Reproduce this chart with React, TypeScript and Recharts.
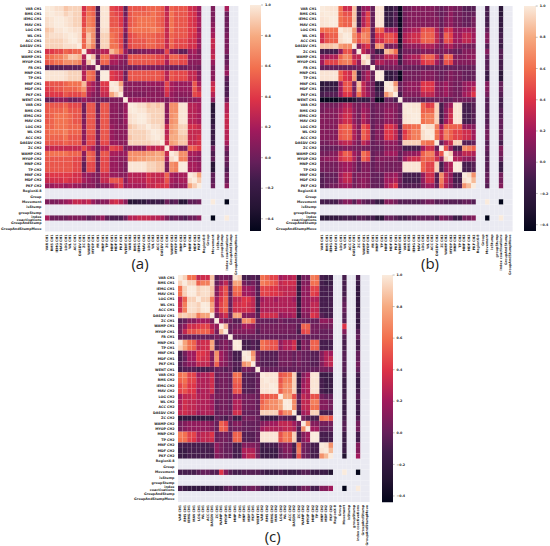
import { Bar, BarChart, Scatter, ScatterChart, XAxis, YAxis } from "recharts";

const features = [
  "VAR CH1", "RMS CH1", "IEMG CH1", "MAV CH1", "LOG CH1", "WL CH1", "ACC CH1", "DASDV CH1", "ZC CH1",
  "WAMP CH1", "MYOP CH1", "FR CH1", "MNP CH1", "TP CH1", "MNF CH1", "MDF CH1", "PKF CH1", "WENT CH1",
  "VAR CH2", "RMS CH2", "IEMG CH2", "MAV CH2", "LOG CH2", "WL CH2", "ACC CH2", "DASDV CH2", "ZC CH2",
  "WAMP CH2", "MYOP CH2", "MNP CH2", "TP CH2", "MNF CH2", "MDF CH2", "PKF CH2",
];
const extras = ["RegionX-8", "Group", "Movement", "isStump", "groupStump", "index\ncoactivations", "GroupAndStump", "GroupAndStumpMove"];
const labels = [...features, ...extras];
const colorbarTicks = [-0.4, -0.2, 0, 0.2, 0.4, 0.6, 0.8, 1];
const rocket = ["#03051a", "#241433", "#3f1c4a", "#651f5a", "#a01a5c", "#dd3347", "#f26f4e", "#f6a97f", "#faebdd"];
const rocketStops = [0, 0.1, 0.22, 0.305, 0.444, 0.583, 0.72, 0.86, 1];

// lower triangles, in hundredths
const corrA = [
  [100],
  [99, 100],
  [96, 98, 100],
  [96, 98, 100, 100],
  [88, 92, 98, 98, 100],
  [92, 96, 96, 96, 98, 100],
  [92, 92, 92, 92, 96, 99, 100],
  [92, 92, 92, 92, 96, 96, 96, 100],
  [35, 40, 45, 45, 55, 50, 55, 55, 100],
  [55, 60, 65, 65, 75, 88, 88, 82, 25, 100],
  [50, 55, 60, 60, 70, 70, 70, 65, 15, 88, 100],
  [-10, -8, -8, -8, -5, -5, -5, -5, 10, 0, 5, 100],
  [98, 98, 98, 98, 96, 92, 92, 92, 25, 60, 55, -5, 100],
  [98, 98, 98, 98, 96, 92, 92, 92, 25, 60, 55, -5, 100, 100],
  [45, 50, 50, 50, 55, 60, 60, 60, 85, 30, 20, 5, 40, 40, 100],
  [40, 45, 50, 50, 55, 55, 55, 60, 72, 25, 20, 5, 35, 35, 98, 100],
  [35, 40, 40, 40, 50, 45, 45, 45, 55, 20, 10, 5, 30, 30, 78, 90, 100],
  [-5, 0, 10, 10, 10, 0, 0, 5, 15, 10, 5, 0, 0, 0, 5, 5, 5, 100],
  [50, 50, 50, 50, 55, 45, 45, 45, 0, 50, 50, 0, 50, 50, 10, 10, 5, 15, 100],
  [50, 55, 55, 55, 60, 50, 50, 50, 0, 50, 50, 0, 50, 50, 10, 10, 5, 15, 99, 100],
  [50, 55, 60, 60, 60, 55, 50, 50, 5, 50, 50, 5, 50, 50, 10, 10, 5, 15, 96, 98, 100],
  [50, 55, 60, 60, 60, 55, 50, 50, 5, 50, 50, 5, 50, 50, 10, 10, 5, 15, 96, 98, 100, 100],
  [55, 55, 60, 60, 60, 55, 55, 55, 10, 50, 50, 5, 50, 50, 15, 10, 10, 10, 88, 92, 96, 96, 100],
  [55, 60, 60, 60, 65, 55, 55, 55, 10, 50, 50, 5, 50, 50, 15, 10, 10, 10, 92, 92, 92, 92, 96, 100],
  [55, 55, 55, 55, 60, 50, 50, 50, 10, 45, 45, 5, 50, 50, 15, 10, 10, 10, 88, 92, 92, 92, 96, 99, 100],
  [50, 50, 50, 50, 55, 50, 50, 50, 10, 45, 45, 5, 45, 45, 15, 15, 10, 10, 92, 92, 92, 92, 92, 96, 96, 100],
  [25, 30, 30, 30, 30, 30, 30, 30, 45, 30, 20, 0, 25, 25, 45, 40, 35, 5, 10, 10, 10, 10, 30, 25, 30, 30, 100],
  [55, 60, 60, 60, 60, 55, 55, 55, 10, 55, 50, 0, 50, 50, 20, 20, 15, 15, 70, 70, 70, 70, 75, 75, 80, 75, 30, 100],
  [50, 50, 50, 50, 50, 50, 45, 45, 5, 55, 50, 0, 45, 45, 15, 15, 10, 10, 70, 70, 75, 75, 80, 80, 80, 80, 20, 95, 100],
  [50, 50, 50, 50, 50, 50, 45, 45, -5, 45, 45, 0, 45, 45, 15, 15, 10, 5, 98, 98, 98, 98, 92, 92, 88, 88, 5, 70, 65, 100],
  [50, 50, 50, 50, 50, 50, 45, 45, -5, 45, 45, 0, 45, 45, 15, 15, 10, 5, 98, 98, 98, 98, 92, 92, 88, 88, 5, 70, 65, 100, 100],
  [35, 40, 40, 40, 40, 40, 35, 35, 15, 15, 10, 5, 30, 30, 15, 15, 10, 10, 25, 25, 25, 25, 35, 30, 30, 30, 55, 20, 15, 20, 20, 100],
  [30, 35, 35, 35, 40, 35, 35, 35, 20, 15, 10, 5, 30, 30, 50, 50, 45, 10, 25, 25, 25, 25, 35, 30, 30, 30, 50, 20, 15, 20, 20, 96, 100],
  [15, 15, 20, 20, 15, 20, 15, 15, 5, 10, 10, 0, 10, 10, 20, 30, 40, 15, 20, 20, 20, 20, 30, 30, 35, 35, 40, 15, 10, 15, 15, 78, 90, 100],
];
const movementA = [5, 5, 5, 10, 15, 20, 30, 30, 25, 30, 15, 5, 10, 10, 30, 35, 25, 10, -30, -30, -25, -25, -15, -20, -15, -20, 0, -10, -5, -30, -30, -5, -5, 0];
const indexA = [20, 0, 0, 0, 0, 5, 5, 5, 5, -5, 0, 5, 15, -5, -10, -10, -10, 0, 25, 25, 30, 30, 30, 25, 25, 20, 5, -5, 0, -5, -10, 0, 0, 10];

const corrB = [
  [100],
  [99, 100],
  [98, 99, 100],
  [98, 99, 100, 100],
  [60, 60, 60, 60, 100],
  [35, 50, 55, 55, 96, 100],
  [35, 50, 55, 55, 96, 99, 100],
  [88, 88, 88, 92, 75, 70, 70, 100],
  [-10, -10, -10, -10, 15, 50, 50, 10, 100],
  [15, 20, 25, 25, 55, 70, 65, 30, 30, 100],
  [20, 45, 45, 45, 60, 65, 65, 40, 15, 92, 100],
  [0, 0, 0, 0, 0, 0, 0, 0, 5, 0, 0, 100],
  [98, 98, 98, 98, 55, 40, 35, 75, -15, 10, 25, 0, 100],
  [98, 98, 98, 98, 55, 40, 35, 75, -15, 10, 25, 0, 100, 100],
  [-25, -20, -20, -20, 20, 50, 50, 5, 85, 30, 15, 5, -25, -25, 100],
  [-20, -15, -15, -15, 20, 50, 50, 5, 80, 30, 15, 5, -20, -20, 98, 100],
  [-10, -5, -5, -5, 20, 40, 40, 10, 60, 30, 20, 5, -10, -10, 72, 88, 100],
  [-42, -42, -42, -42, -35, -35, -35, -30, -15, -20, -15, 0, -42, -42, 0, 0, -10, 100],
  [5, 5, 5, 5, 15, 25, 25, 10, 5, 15, 10, 0, 5, 5, 10, 10, 10, 0, 100],
  [5, 10, 10, 10, 20, 30, 30, 15, 5, 20, 15, 0, 5, 5, 15, 15, 10, 0, 99, 100],
  [10, 10, 10, 10, 25, 35, 35, 15, 5, 25, 15, 0, 5, 5, 15, 15, 10, 0, 98, 99, 100],
  [10, 10, 10, 10, 25, 35, 35, 15, 5, 25, 15, 0, 5, 5, 15, 15, 10, 0, 98, 99, 100, 100],
  [10, 10, 10, 10, 50, 55, 55, 25, 10, 50, 40, 0, 10, 10, 40, 40, 30, -5, 55, 55, 60, 60, 100],
  [10, 10, 10, 10, 50, 55, 55, 25, 10, 55, 45, 0, 10, 10, 40, 40, 30, 0, 40, 55, 65, 65, 96, 100],
  [10, 10, 10, 10, 50, 55, 55, 25, 10, 55, 45, 0, 10, 10, 40, 40, 30, 0, 45, 55, 65, 65, 96, 99, 100],
  [5, 5, 10, 10, 25, 30, 30, 15, 5, 30, 20, 0, 5, 5, 15, 15, 15, 0, 92, 92, 92, 92, 65, 60, 60, 100],
  [0, 0, 0, 0, 5, 10, 10, 5, 5, 5, 5, 0, 0, 0, 10, 10, 10, 5, -10, -10, -10, -10, 20, 35, 35, 0, 100],
  [5, 5, 10, 10, 35, 55, 50, 20, 10, 60, 50, 0, 5, 5, 20, 20, 20, 0, 10, 15, 15, 20, 55, 65, 65, 25, 50, 100],
  [10, 15, 15, 15, 35, 45, 45, 25, 5, 55, 45, 0, 10, 10, 10, 10, 10, 0, 20, 30, 35, 35, 55, 55, 55, 35, 15, 92, 100],
  [5, 5, 5, 5, 15, 20, 20, 10, 0, 10, 10, 0, 5, 5, 5, 5, 5, 5, 98, 98, 98, 98, 55, 45, 45, 92, -10, 15, 25, 100],
  [5, 5, 5, 5, 15, 20, 20, 10, 0, 10, 10, 0, 5, 5, 5, 5, 5, 5, 98, 98, 98, 98, 55, 45, 45, 92, -10, 15, 25, 100, 100],
  [-5, 0, 0, 0, 20, 30, 30, 5, 10, 10, 10, 0, 0, 0, 15, 15, 20, 5, -10, -10, -10, -10, 15, 35, 35, -5, 70, 30, 15, -10, -10, 100],
  [-5, 0, 0, 0, 20, 30, 30, 5, 10, 15, 10, 0, 0, 0, 20, 20, 25, 5, -10, -10, -10, -10, 15, 35, 35, -5, 65, 30, 15, -10, -10, 96, 100],
  [-5, 0, 5, 5, 15, 20, 20, 5, 10, 15, 10, 0, 0, 0, 20, 30, 40, 0, -5, -5, -5, -5, 10, 20, 20, 0, 55, 25, 10, -5, -5, 72, 85, 100],
];
const movementB = [-10, -10, -10, -10, 0, 10, 10, -5, 10, 0, -5, -5, -15, -15, 10, 10, 5, -5, -5, -5, -5, -5, 0, 5, 5, -5, 0, -5, -5, -5, -5, 0, 0, -5];
const indexB = [-25, -25, -20, -20, -15, -10, -10, -15, -5, -5, -10, -10, -25, -25, 0, 0, -5, -10, -10, -5, -5, 0, 0, 0, 0, -10, 10, 5, 0, -15, -15, 5, 5, 10];

const corrC = [
  [100],
  [92, 100],
  [60, 92, 100],
  [60, 92, 100, 100],
  [30, 55, 92, 92, 100],
  [35, 65, 96, 96, 92, 100],
  [35, 65, 96, 96, 92, 99, 100],
  [88, 92, 88, 88, 65, 78, 78, 100],
  [-5, 0, 10, 10, 20, 20, 20, 5, 100],
  [5, 15, 35, 35, 40, 45, 45, 25, 15, 100],
  [5, 30, 50, 50, 55, 55, 55, 35, 5, 85, 100],
  [0, 0, 0, 0, 0, 0, 0, 0, 5, 0, 0, 100],
  [98, 78, 60, 55, 30, 35, 35, 78, -5, 5, 10, 0, 100],
  [92, 78, 60, 55, 30, 35, 35, 78, -5, 5, 10, 0, 99, 100],
  [-10, 5, 20, 20, 40, 40, 35, 10, 70, 20, 10, 0, -10, -10, 100],
  [-10, 0, 20, 20, 40, 35, 35, 10, 72, 20, 10, 0, -10, -10, 98, 100],
  [-5, 5, 15, 15, 30, 30, 30, 10, 55, 15, 10, 0, -5, -5, 72, 80, 100],
  [-10, -5, -5, -5, -10, -10, -10, -5, 0, 0, -5, 0, -10, -10, 5, 5, 0, 100],
  [60, 65, 45, 45, 20, 25, 25, 35, 0, 5, 5, 0, 60, 60, -5, -5, -5, 0, 100],
  [55, 60, 45, 45, 25, 25, 25, 35, 0, 5, 5, 0, 55, 55, -5, -5, -5, 0, 98, 100],
  [45, 55, 40, 40, 25, 25, 25, 35, 0, 5, 5, 0, 50, 50, -5, -5, -5, 0, 98, 98, 100],
  [45, 50, 40, 40, 20, 25, 25, 35, 0, 5, 5, 0, 50, 50, -5, -5, -5, 0, 98, 98, 99, 100],
  [20, 30, 30, 35, 25, 25, 25, 15, 5, 5, 5, 0, 15, 15, 5, 5, 5, 0, 50, 50, 55, 55, 100],
  [25, 35, 30, 30, 25, 25, 25, 20, 0, 5, 5, 0, 25, 25, 5, 5, 5, 0, 55, 65, 70, 70, 78, 100],
  [25, 35, 30, 30, 25, 25, 25, 20, 0, 5, 5, 0, 25, 25, 5, 5, 5, 0, 60, 65, 70, 70, 78, 99, 100],
  [30, 35, 30, 30, 20, 25, 25, 25, 0, 5, 5, 0, 35, 35, 0, 0, 0, 0, 92, 92, 92, 92, 50, 70, 70, 100],
  [-25, -20, -20, -20, -20, -20, -15, -20, 0, -5, -10, 0, -15, -15, 5, 5, 5, 0, -15, -15, -15, -15, 0, -5, -5, -15, 100],
  [5, 10, 15, 15, 15, 15, 15, 10, 0, 55, 45, 0, 10, 10, 0, 0, 0, 0, 10, 15, 20, 20, 30, 30, 30, 20, 5, 100],
  [5, 10, 15, 15, 15, 15, 15, 10, 0, 55, 50, 0, 5, 5, 0, 0, 0, 0, 20, 25, 25, 25, 25, 30, 30, 25, -5, 70, 100],
  [65, 60, 45, 45, 25, 30, 30, 40, 0, 5, 5, 0, 55, 55, -5, -5, -5, 0, 98, 98, 98, 98, 50, 65, 60, 92, -10, 10, 20, 100],
  [60, 60, 45, 40, 25, 30, 30, 35, 0, 5, 5, 0, 55, 55, -5, -5, -5, 0, 98, 98, 98, 98, 50, 65, 60, 92, -10, 10, 20, 100, 100],
  [-10, -10, -10, -10, -10, -10, -10, -5, 15, 5, 0, 0, -10, -10, 10, 10, 10, 5, -15, -10, -10, -10, 5, 10, 10, -10, 60, 5, 0, -10, -10, 100],
  [-15, -15, -10, -10, -10, -10, -10, -10, 15, 5, 0, 0, -10, -10, 25, 25, 25, 5, -15, -15, -15, -15, 0, 10, 10, -10, 65, 5, 0, -10, -10, 98, 100],
  [-15, -15, -10, -10, -10, -10, -10, -10, 10, 5, 0, 0, -10, -10, 20, 30, 30, 5, -15, -15, -15, -15, 0, 5, 5, -10, 50, 5, 0, -10, -10, 72, 85, 100],
];
const movementC = [-10, -10, -10, -10, -5, 0, 0, -5, -5, 40, 10, -5, -10, -10, -5, -5, -5, -5, -10, -15, -15, -15, -10, -15, -15, -15, -10, -5, -5, -15, -15, -15, -15, -30];
const indexC = [-10, -15, -20, -20, -20, -20, -20, -15, -20, -15, -5, 0, -10, -10, 0, 0, 5, 0, -10, -15, -15, -10, -5, -10, -10, -15, -5, 5, 5, -10, -10, 10, 10, 20];

const N = labels.length;
const MOVE = labels.indexOf("Movement");
const INDEX = labels.indexOf("index\ncoactivations");
const NAN_FILL = "#eaeaf2";
const FONT = "'DejaVu Sans', sans-serif";
const TEXT_SIZE = 3.3;

function hexToRgb(h: string) {
  return [1, 3, 5].map(i => parseInt(h.slice(i, i + 2), 16));
}

function rocketColor(t: number) {
  const v = Math.max(0, Math.min(1, t));
  let i = 0;
  while (i < rocket.length - 2 && v > rocketStops[i + 1]) i++;
  const a = hexToRgb(rocket[i]);
  const b = hexToRgb(rocket[i + 1]);
  const f = (v - rocketStops[i]) / (rocketStops[i + 1] - rocketStops[i]);
  const c = a.map((x, k) => Math.round(x + (b[k] - x) * f));
  return `rgb(${c[0]},${c[1]},${c[2]})`;
}

function lookup(corr: number[][], movement: number[], index: number[], vmin: number, r: number, c: number) {
  const hi = Math.max(r, c);
  const lo = Math.min(r, c);
  if (hi < features.length) return corr[hi][lo] / 100;
  if (hi === MOVE) return lo < features.length ? movement[lo] / 100 : lo === MOVE ? 1 : null;
  if (hi === INDEX) {
    if (lo < features.length) return index[lo] / 100;
    if (lo === MOVE) return vmin;
    if (lo === INDEX) return 1;
  }
  return null;
}

function buildCells(corr: number[][], movement: number[], index: number[], vmin: number) {
  const cells = [];
  for (let r = 0; r < N; r++) {
    for (let c = 0; c < N; c++) {
      cells.push({ x: c + 0.5, y: r + 0.5, value: lookup(corr, movement, index, vmin, r, c) });
    }
  }
  return cells;
}

const tickPositions = labels.map((_, i) => i + 0.5);

function Heatmap({ left, top, w, h, corr, movement, index, vmin }: any) {
  const cw = w / N;
  const ch = h / N;
  const yW = 46;
  const xH = 60;
  const data = buildCells(corr, movement, index, vmin);

  const cell = (p: any) => {
    const v = p.payload.value;
    const fill = v === null ? NAN_FILL : rocketColor((v - vmin) / (1 - vmin));
    return (
      <rect x={p.cx - cw / 2} y={p.cy - ch / 2} width={cw} height={ch} fill={fill}
            stroke="#fff" strokeOpacity={0.12} strokeWidth={0.3} />
    );
  };
  const xTick = (p: any) => {
    const name = labels[Math.round(p.payload.value - 0.5)].replace("\n", " ");
    return (
      <text x={p.x} y={p.y + 1} transform={`rotate(-90 ${p.x} ${p.y + 1})`} textAnchor="end"
            dominantBaseline="central" fontSize={TEXT_SIZE} fontWeight={700} fontFamily={FONT} fill="#262626">
        {name}
      </text>
    );
  };
  const yTick = (p: any) => {
    const lines = labels[Math.round(p.payload.value - 0.5)].split("\n");
    return (
      <text x={p.x - 1.5} y={p.y} textAnchor="end" dominantBaseline="central"
            fontSize={TEXT_SIZE} fontWeight={700} fontFamily={FONT} fill="#262626">
        {lines.map((l, i) => (
          <tspan key={i} x={p.x - 1.5} dy={lines.length > 1 ? (i === 0 ? -1 : 2.8) : 0}>{l}</tspan>
        ))}
      </text>
    );
  };

  return (
    <div style={{ position: "absolute", left: left - yW, top }}>
      <ScatterChart width={w + yW + 3} height={h + xH} margin={{ top: 0, right: 3, bottom: 0, left: 0 }}>
        <XAxis type="number" dataKey="x" domain={[0, N]} ticks={tickPositions} interval={0}
               height={xH} tick={xTick} tickLine={false} axisLine={false} tickSize={0} />
        <YAxis type="number" dataKey="y" domain={[0, N]} ticks={tickPositions} interval={0} reversed
               width={yW} tick={yTick} tickLine={false} axisLine={false} tickSize={0} />
        <Scatter data={data} shape={cell} isAnimationActive={false} />
      </ScatterChart>
    </div>
  );
}

function Colorbar({ id, left, top, w, h, vmin }: any) {
  const axisW = 22;
  const pad = 5;
  const fmt = (v: number) => (v < 0 ? "\u2212" : "") + Math.abs(v).toFixed(1);
  return (
    <div style={{ position: "absolute", left, top: top - pad }}>
      <BarChart width={w + axisW} height={h + pad * 2} data={[{ name: "cb", range: [vmin, 1] }]}
                margin={{ top: pad, right: 0, bottom: pad, left: 0 }} barCategoryGap={0}>
        <defs>
          <linearGradient id={id} x1="0" y1="1" x2="0" y2="0">
            {rocket.map((c, i) => <stop key={i} offset={rocketStops[i]} stopColor={c} />)}
          </linearGradient>
        </defs>
        <XAxis dataKey="name" hide />
        <YAxis orientation="right" type="number" domain={[vmin, 1]} ticks={colorbarTicks} interval={0}
               width={axisW} axisLine={false} tickSize={2} tickLine={{ stroke: "#555", strokeWidth: 0.4 }}
               tickFormatter={fmt} tick={{ fontSize: TEXT_SIZE, fontWeight: 700, fontFamily: FONT, fill: "#262626" }} />
        <Bar dataKey="range" fill={`url(#${id})`} isAnimationActive={false} />
      </BarChart>
    </div>
  );
}

function Caption({ x, y, text }: any) {
  return (
    <div style={{ position: "absolute", left: x, top: y, transform: "translate(-50%, -50%)",
                  fontFamily: "'Open Sans', sans-serif", fontSize: 15, color: "#222" }}>
      {text}
    </div>
  );
}

export default function App() {
  return (
    <div style={{ position: "absolute", left: 0, top: 0, width: 550, height: 546, background: "#fff", overflow: "hidden" }}>
      <Heatmap left={45.3} top={5.6} w={193.4} h={225.5} corr={corrA} movement={movementA} index={indexA} vmin={-0.48} />
      <Colorbar id="cbA" left={250} top={5} w={11} h={226} vmin={-0.48} />
      <Caption x={140} y={263} text="(a)" />

      <Heatmap left={319.7} top={6} w={192.6} h={225.5} corr={corrB} movement={movementB} index={indexB} vmin={-0.44} />
      <Colorbar id="cbB" left={524.3} top={6} w={11.7} h={225} vmin={-0.44} />
      <Caption x={430} y={263} text="(b)" />

      <Heatmap left={177.7} top={275.3} w={191.6} h={227} corr={corrC} movement={movementC} index={indexC} vmin={-0.44} />
      <Colorbar id="cbC" left={381.7} top={275} w={10.6} h={227.3} vmin={-0.44} />
      <Caption x={272.7} y={536} text="(c)" />
    </div>
  );
}
